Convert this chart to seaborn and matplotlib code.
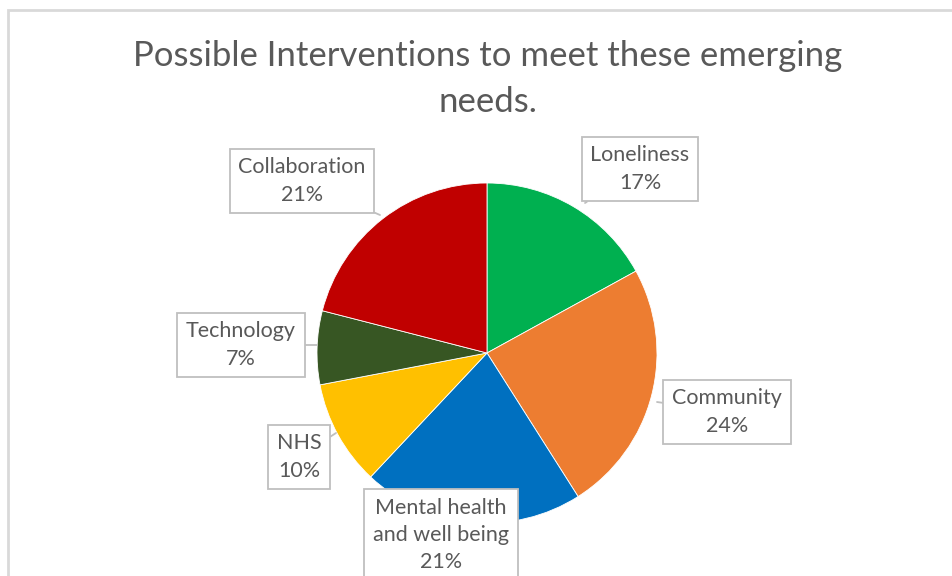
import matplotlib
matplotlib.use("Agg")
import matplotlib.pyplot as plt
from matplotlib.patches import Rectangle
import seaborn as sns

# Survey shares per intervention (percent), clockwise from 12 o'clock
categories = ["Loneliness", "Community", "Mental health\nand well being",
              "NHS", "Technology", "Collaboration"]
shares = [17, 24, 21, 10, 7, 21]
slice_colors = ["#00B050", "#ED7D31", "#0070C0", "#FFC000", "#375623", "#C00000"]

title = "Possible Interventions to meet these emerging\nneeds."

sns.set_theme(style="white")
plt.rcParams["font.family"] = ["Lato", "DejaVu Sans"]

W, H, DPI = 952, 576, 100
fig = plt.figure(figsize=(W / DPI, H / DPI), dpi=DPI)
fig.patch.set_facecolor("white")

# Pie geometry in pixels: centre and radius
cx, cy, R = 487, 353, 170
ax = fig.add_axes([0, 0, 1, 1])
palette = sns.color_palette(slice_colors)
wedges, _ = ax.pie(shares, colors=palette, startangle=90, counterclock=False,
                   radius=1.0, wedgeprops=dict(edgecolor="white", linewidth=0.6))
ax.set_aspect("auto")
ax.set_xlim(-cx / R, (W - cx) / R)
ax.set_ylim(-(H - cy) / R, cy / R)
ax.axis("off")


def px(x, y):
    """Pixel position (from top-left) to data units of the pie axes."""
    return (x - cx) / R, (cy - y) / R


# Label box centres and the point on the slice each callout points to (pixels)
label_pos = [(640, 169), (727, 412), (441, 535), (299, 457), (241, 345), (302, 181)]
anchor_pos = [(585, 203), (657, 402), (441, 515), (336, 433), (317, 345), (380, 215)]

text_color = "#595959"
for cat, val, (lx, ly), (axx, ayy) in zip(categories, shares, label_pos, anchor_pos):
    ax.annotate(f"{cat}\n{val}%", xy=px(axx, ayy), xytext=px(lx, ly),
                ha="center", va="center", fontsize=15.5, color=text_color,
                linespacing=1.45, annotation_clip=False,
                bbox=dict(boxstyle="square,pad=0.4", fc="white",
                          ec="#BFBFBF", lw=1.3),
                arrowprops=dict(arrowstyle="-", color="#BFBFBF", lw=1.3,
                                shrinkA=0, shrinkB=0))

fig.text(487.5 / W, 1 - 79 / H, title, ha="center", va="center",
         fontsize=25, color=text_color, linespacing=1.55)

# Light chart-area frame
fig.patches.append(Rectangle((8 / W, -0.1), 1.0, (H - 10) / H + 0.1,
                             transform=fig.transFigure, fill=False,
                             ec="#D9D9D9", lw=2, zorder=0))

fig.savefig("out.png", dpi=DPI, facecolor="white")
